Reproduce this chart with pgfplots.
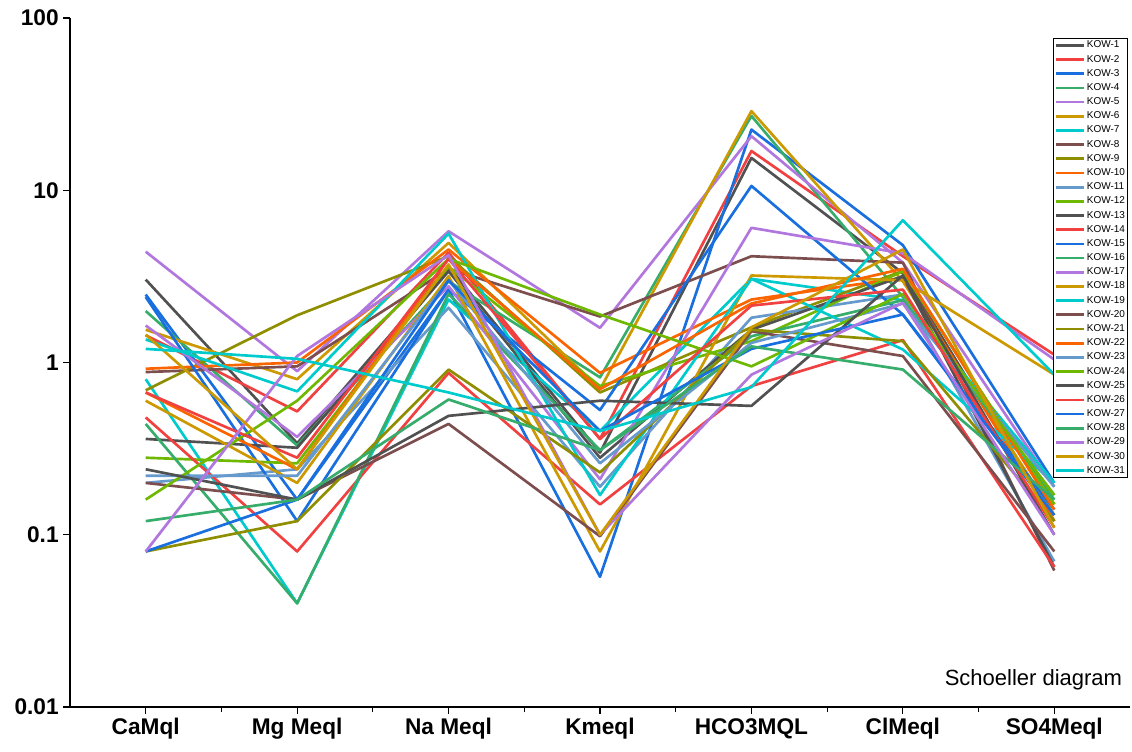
\documentclass[border=0pt]{standalone}
\usepackage{pgfplots}
\pgfplotsset{compat=1.18}
\usepackage{fontspec}
\setmainfont{Liberation Sans}
\definecolor{c1}{HTML}{515151}
\definecolor{c2}{HTML}{F14040}
\definecolor{c3}{HTML}{1A6FDF}
\definecolor{c4}{HTML}{37AD6B}
\definecolor{c5}{HTML}{B177DE}
\definecolor{c6}{HTML}{CC9900}
\definecolor{c7}{HTML}{00CBCC}
\definecolor{c8}{HTML}{7D4E4E}
\definecolor{c9}{HTML}{8E8E00}
\definecolor{c10}{HTML}{FB6501}
\definecolor{c11}{HTML}{6699CC}
\definecolor{c12}{HTML}{6FB802}
\begin{document}
\begin{tikzpicture}
\path[use as bounding box] (-52.5pt,-33pt) rectangle (796.5pt,530.25pt);
\begin{axis}[
  at={(0pt,0pt)}, anchor=south west,
  scale only axis, width=795pt, height=516.75pt,
  ymode=log, ymin=0.01, ymax=100,
  xmin=0.5, xmax=7.5,
  axis lines=left, axis line style={-, line width=0.9pt},
  xtick={1,2,3,4,5,6,7},
  xticklabels={CaMql, Mg Meql, Na Meql, Kmeql, HCO3MQL, ClMeql, SO4Meql},
  minor xtick={1.5,2.5,3.5,4.5,5.5,6.5},
  ytick={0.01,0.1,1,10,100},
  yticklabels={0.01,0.1,1,10,100},
  yminorticks=false,
  tick align=outside,
  major tick length=5pt, minor tick length=4pt,
  tick style={line width=0.9pt, black},
  ticklabel style={font=\bfseries\fontsize{17}{20}\selectfont},
  clip=false,
  every axis plot post/.append style={line width=2pt, line join=round, mark=none},
  legend cell align=left,
  legend image code/.code={\draw[#1, line width=2pt] (0pt,0pt) -- (21pt,0pt);},
  legend style={at={(0.998,0.971)}, anchor=north east, draw=black, line width=0.7pt,
    font=\fontsize{7.5}{8}\selectfont, inner sep=1pt, row sep=2.3pt,
    nodes={inner sep=0.8pt}},
]
% series: Ca, Mg, Na, K, HCO3, Cl, SO4
\addplot[c1] coordinates {(1,3.03)(2,0.34)(3,3.6)(4,0.30)(5,15.4)(6,3.3)(7,0.12)};
\addlegendentry{KOW-1}
\addplot[c2] coordinates {(1,1.44)(2,0.52)(3,4.34)(4,0.36)(5,16.9)(6,4.14)(7,1.11)};
\addlegendentry{KOW-2}
\addplot[c3] coordinates {(1,2.48)(2,0.16)(3,2.65)(4,0.057)(5,22.5)(6,4.8)(7,0.20)};
\addlegendentry{KOW-3}
\addplot[c4] coordinates {(1,1.99)(2,0.33)(3,2.96)(4,0.82)(5,27)(6,2.4)(7,0.16)};
\addlegendentry{KOW-4}
\addplot[c5] coordinates {(1,4.4)(2,0.89)(3,5.78)(4,1.59)(5,20.6)(6,3.8)(7,0.19)};
\addlegendentry{KOW-5}
\addplot[c6] coordinates {(1,1.55)(2,0.80)(3,4.95)(4,0.70)(5,28.8)(6,2.96)(7,0.13)};
\addlegendentry{KOW-6}
\addplot[c7] coordinates {(1,0.80)(2,0.04)(3,2.32)(4,0.40)(5,3.06)(6,2.3)(7,0.20)};
\addlegendentry{KOW-7}
\addplot[c8] coordinates {(1,0.88)(2,0.95)(3,3.5)(4,1.85)(5,4.14)(6,3.8)(7,0.062)};
\addlegendentry{KOW-8}
\addplot[c9] coordinates {(1,0.69)(2,1.88)(3,4.14)(4,0.67)(5,1.6)(6,3.4)(7,0.15)};
\addlegendentry{KOW-9}
\addplot[c10] coordinates {(1,0.92)(2,1.0)(3,4.53)(4,0.87)(5,2.32)(6,3.1)(7,0.12)};
\addlegendentry{KOW-10}
\addplot[c11] coordinates {(1,0.20)(2,0.24)(3,2.08)(4,0.19)(5,1.82)(6,2.48)(7,0.07)};
\addlegendentry{KOW-11}
\addplot[c12] coordinates {(1,0.28)(2,0.26)(3,3.6)(4,0.73)(5,1.33)(6,3.39)(7,0.15)};
\addlegendentry{KOW-12}
\addplot[c1] coordinates {(1,0.36)(2,0.32)(3,3.39)(4,0.28)(5,1.55)(6,3.17)(7,0.065)};
\addlegendentry{KOW-13}
\addplot[c2] coordinates {(1,0.48)(2,0.08)(3,0.87)(4,0.15)(5,0.73)(6,1.35)(7,0.065)};
\addlegendentry{KOW-14}
\addplot[c3] coordinates {(1,2.4)(2,0.12)(3,2.65)(4,0.53)(5,10.6)(6,1.9)(7,0.14)};
\addlegendentry{KOW-15}
\addplot[c4] coordinates {(1,0.44)(2,0.04)(3,2.5)(4,0.31)(5,1.42)(6,2.3)(7,0.17)};
\addlegendentry{KOW-16}
\addplot[c5] coordinates {(1,1.64)(2,0.37)(3,2.77)(4,0.21)(5,6.05)(6,4.3)(7,1.04)};
\addlegendentry{KOW-17}
\addplot[c6] coordinates {(1,0.60)(2,0.20)(3,3.17)(4,0.08)(5,3.2)(6,3.0)(7,0.85)};
\addlegendentry{KOW-18}
\addplot[c7] coordinates {(1,1.36)(2,0.68)(3,5.6)(4,0.17)(5,3.06)(6,1.19)(7,0.20)};
\addlegendentry{KOW-19}
\addplot[c8] coordinates {(1,0.20)(2,0.16)(3,0.44)(4,0.098)(5,1.52)(6,1.09)(7,0.08)};
\addlegendentry{KOW-20}
\addplot[c9] coordinates {(1,0.08)(2,0.12)(3,0.91)(4,0.23)(5,1.55)(6,1.33)(7,0.12)};
\addlegendentry{KOW-21}
\addplot[c10] coordinates {(1,0.67)(2,0.24)(3,4.0)(4,0.70)(5,2.2)(6,3.5)(7,0.14)};
\addlegendentry{KOW-22}
\addplot[c11] coordinates {(1,0.22)(2,0.22)(3,3.0)(4,0.26)(5,1.3)(6,2.2)(7,0.19)};
\addlegendentry{KOW-23}
\addplot[c12] coordinates {(1,0.16)(2,0.60)(3,4.0)(4,1.9)(5,0.95)(6,2.5)(7,0.17)};
\addlegendentry{KOW-24}
\addplot[c1] coordinates {(1,0.24)(2,0.16)(3,0.49)(4,0.60)(5,0.56)(6,3.2)(7,0.10)};
\addlegendentry{KOW-25}
\addplot[c2] coordinates {(1,0.67)(2,0.28)(3,4.0)(4,0.36)(5,2.14)(6,2.65)(7,0.11)};
\addlegendentry{KOW-26}
\addplot[c3] coordinates {(1,0.08)(2,0.16)(3,3.0)(4,0.40)(5,1.2)(6,1.9)(7,0.13)};
\addlegendentry{KOW-27}
\addplot[c4] coordinates {(1,0.12)(2,0.16)(3,0.61)(4,0.31)(5,1.24)(6,0.91)(7,0.16)};
\addlegendentry{KOW-28}
\addplot[c5] coordinates {(1,0.08)(2,1.09)(3,4.2)(4,0.10)(5,0.85)(6,2.22)(7,0.10)};
\addlegendentry{KOW-29}
\addplot[c6] coordinates {(1,1.45)(2,0.24)(3,3.71)(4,0.10)(5,1.6)(6,4.53)(7,0.11)};
\addlegendentry{KOW-30}
\addplot[c7] coordinates {(1,1.2)(2,1.05)(3,0.67)(4,0.40)(5,0.72)(6,6.7)(7,0.85)};
\addlegendentry{KOW-31}
\node[anchor=base east, font=\fontsize{16.5}{19}\selectfont] at (rel axis cs:0.997,0.0305) {Schoeller diagram};
\end{axis}
\end{tikzpicture}
\end{document}
